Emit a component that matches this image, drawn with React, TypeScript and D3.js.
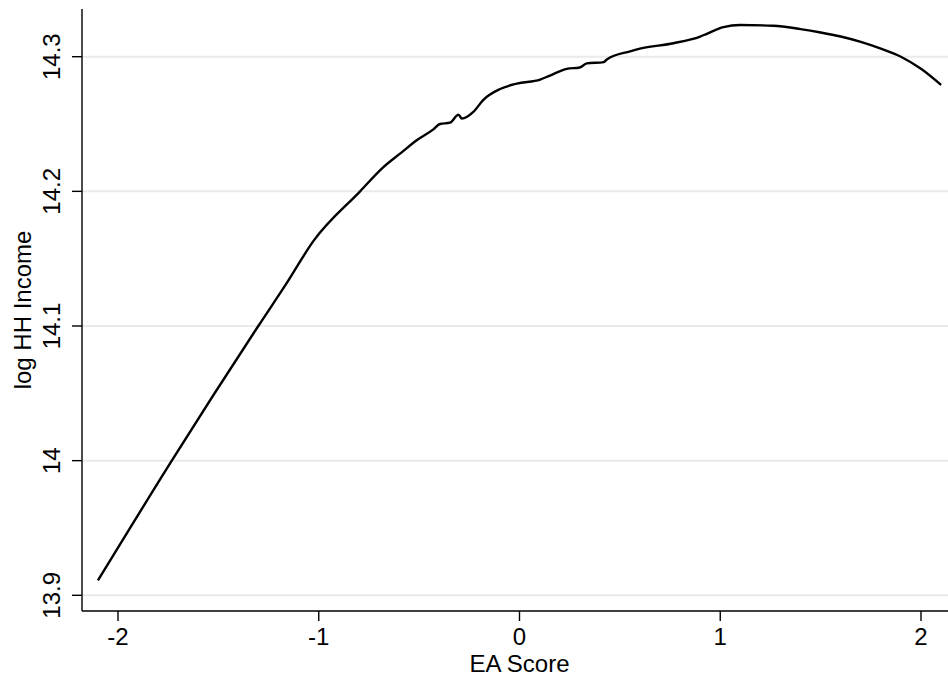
import React from "react";
import * as d3 from "d3";

const eaScore: number[] = [
  -2.1, -1.732, -1.301, -1.159, -1.027, -0.794, -0.678, -0.595, -0.512, -0.429,
  -0.396, -0.346, -0.304, -0.287, -0.23, -0.18, -0.097, -0.013, 0.103, 0.152,
  0.236, 0.3, 0.335, 0.42, 0.435, 0.551, 0.6, 0.767, 0.9, 0.933, 1.016, 1.099,
  1.265, 1.4, 1.5, 1.6, 1.7, 1.8, 1.9, 2.0, 2.1,
];
const logIncome: number[] = [
  13.911, 14.0, 14.1, 14.132, 14.163, 14.2, 14.218, 14.228, 14.238, 14.246,
  14.25, 14.251, 14.257, 14.254, 14.259, 14.268, 14.276, 14.28, 14.283, 14.286,
  14.291, 14.292, 14.295, 14.296, 14.298, 14.304, 14.306, 14.31, 14.315, 14.317,
  14.322, 14.3235, 14.323, 14.3205, 14.318, 14.315, 14.311, 14.306, 14.3, 14.291, 14.279,
];
const xTicks: number[] = [-2, -1, 0, 1, 2];
const yTicks: number[] = [13.9, 14.0, 14.1, 14.2, 14.3];
const yTickLabels: string[] = ["13.9", "14", "14.1", "14.2", "14.3"];
const xTitle = "EA Score";
const yTitle = "log HH Income";

const W = 948;
const H = 682;
const plotLeft = 82;
const plotRight = 948;
const plotTop = 9;
const plotBottom = 611;
const font = "'Liberation Sans', Arial, Helvetica, sans-serif";

export default function App() {
  const x = d3.scaleLinear().domain([-2, 2]).range([118, 921]);
  const y = d3.scaleLinear().domain([13.9, 14.3]).range([595.3, 56.7]);
  const pts: [number, number][] = eaScore.map((v, i) => [v, logIncome[i]]);
  const line = d3
    .line<[number, number]>()
    .x((d) => x(d[0]))
    .y((d) => y(d[1]))
    .curve(d3.curveMonotoneX);

  return (
    <svg
      width={W}
      height={H}
      style={{ position: "absolute", left: 0, top: 0, background: "#fff" }}
      fontFamily={font}
    >
      <rect x={0} y={0} width={W} height={H} fill="#fff" />
      {yTicks.map((t) => (
        <line
          key={"g" + t}
          x1={plotLeft}
          x2={plotRight}
          y1={y(t)}
          y2={y(t)}
          stroke="#eaeaea"
          strokeWidth={2}
        />
      ))}
      <path d={line(pts) || ""} fill="none" stroke="#000" strokeWidth={2.4} strokeLinejoin="round" />
      <line x1={plotLeft} x2={plotLeft} y1={plotTop} y2={plotBottom} stroke="#000" strokeWidth={1.4} />
      <line x1={plotLeft} x2={plotRight} y1={plotBottom} y2={plotBottom} stroke="#000" strokeWidth={1.4} />
      {yTicks.map((t, i) => (
        <g key={"yt" + t}>
          <line x1={plotLeft - 10} x2={plotLeft} y1={y(t)} y2={y(t)} stroke="#000" strokeWidth={1.4} />
          <text
            transform={`translate(60,${y(t)}) rotate(-90)`}
            textAnchor="middle"
            fontSize={24}
            fill="#000"
          >
            {yTickLabels[i]}
          </text>
        </g>
      ))}
      {xTicks.map((t) => (
        <g key={"xt" + t}>
          <line x1={x(t)} x2={x(t)} y1={plotBottom} y2={plotBottom + 10} stroke="#000" strokeWidth={1.4} />
          <text x={x(t)} y={645} textAnchor="middle" fontSize={24} fill="#000">
            {t}
          </text>
        </g>
      ))}
      <text x={x(0)} y={672} textAnchor="middle" fontSize={24} fill="#000">
        {xTitle}
      </text>
      <text
        transform={`translate(31,${(plotTop + plotBottom) / 2}) rotate(-90)`}
        textAnchor="middle"
        fontSize={24}
        fill="#000"
      >
        {yTitle}
      </text>
    </svg>
  );
}
